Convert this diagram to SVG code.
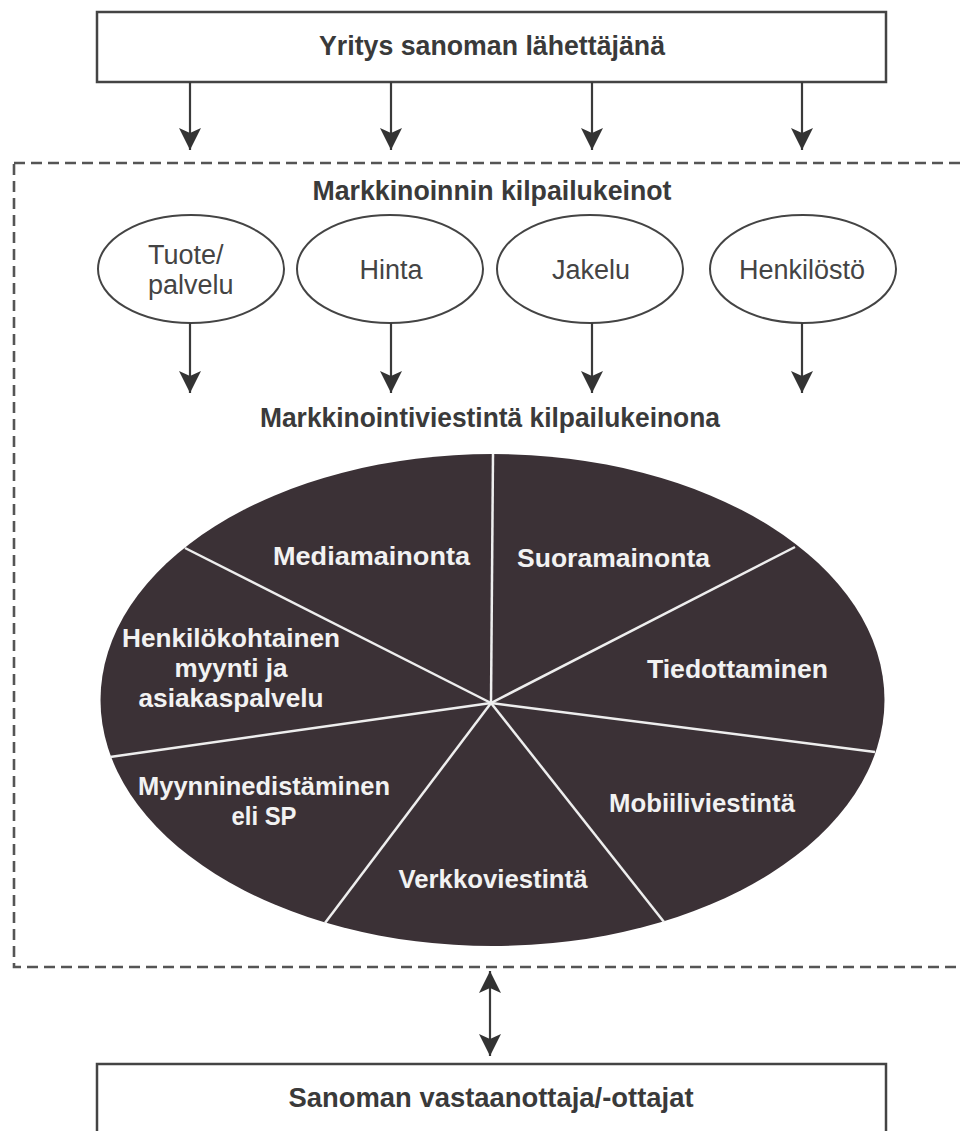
<svg xmlns="http://www.w3.org/2000/svg" width="962" height="1131" viewBox="0 0 962 1131">
<style>
.box{fill:#fff;stroke:#444;stroke-width:2.5}
.oval{fill:#fff;stroke:#444;stroke-width:2}
.head{font-family:"Liberation Sans",Arial,sans-serif;font-weight:bold;font-size:27px;fill:#3a3a3a;text-anchor:middle}
.lbl{font-family:"Liberation Sans",Arial,sans-serif;font-size:27px;fill:#444}
.pie{font-family:"Liberation Sans",Arial,sans-serif;font-weight:bold;font-size:26px;fill:#f2f2f2;text-anchor:middle}
.conn{stroke:#3a3a3a;stroke-width:2.2;fill:none}
.div{stroke:#eeeeee;stroke-width:2.5}
</style>
<defs>
<marker id="ah" viewBox="0 0 22 22" markerWidth="22" markerHeight="22" refX="22" refY="11" orient="auto-start-reverse" markerUnits="userSpaceOnUse">
<path d="M0,0 L22,11 L0,22 L5,11 z" fill="#333"/>
</marker>
</defs>
<rect width="962" height="1131" fill="#fff"/>

<g id="sender">
<rect class="box" x="97" y="12" width="789" height="70"/>
<text class="head" x="492" y="55" textLength="346" lengthAdjust="spacingAndGlyphs">Yritys sanoman lähettäjänä</text>
</g>

<g id="frame">
<rect x="14" y="163" width="970" height="804" fill="none" stroke="#555" stroke-width="2.6" stroke-dasharray="11 6"/>
<text class="head" x="492" y="200" textLength="359" lengthAdjust="spacingAndGlyphs">Markkinoinnin kilpailukeinot</text>
<text class="head" x="490" y="427" textLength="460" lengthAdjust="spacingAndGlyphs">Markkinointiviestintä kilpailukeinona</text>
</g>

<g id="tuote">
<ellipse class="oval" cx="191" cy="269" rx="93" ry="54"/>
<text class="lbl" x="148" y="264">Tuote/</text>
<text class="lbl" x="148" y="294">palvelu</text>
</g>
<g id="hinta">
<ellipse class="oval" cx="390" cy="269" rx="93" ry="54"/>
<text class="lbl" x="391" y="279" text-anchor="middle">Hinta</text>
</g>
<g id="jakelu">
<ellipse class="oval" cx="590" cy="269" rx="93" ry="54"/>
<text class="lbl" x="591" y="279" text-anchor="middle">Jakelu</text>
</g>
<g id="henkilosto">
<ellipse class="oval" cx="803" cy="269" rx="93" ry="54"/>
<text class="lbl" x="802" y="279" text-anchor="middle">Henkilöstö</text>
</g>

<g id="pie">
<ellipse cx="492.5" cy="700" rx="392" ry="246" fill="#3b3136"/>
<line class="div" x1="491" y1="703" x2="493" y2="454"/>
<line class="div" x1="491" y1="703" x2="185" y2="548"/>
<line class="div" x1="491" y1="703" x2="110" y2="757"/>
<line class="div" x1="491" y1="703" x2="325" y2="923"/>
<line class="div" x1="491" y1="703" x2="664" y2="922"/>
<line class="div" x1="491" y1="703" x2="875" y2="752"/>
<line class="div" x1="491" y1="703" x2="795" y2="547"/>
<text class="pie" x="371.5" y="565" textLength="197" lengthAdjust="spacingAndGlyphs">Mediamainonta</text>
<text class="pie" x="613.5" y="567" textLength="193" lengthAdjust="spacingAndGlyphs">Suoramainonta</text>
<text class="pie" x="737.5" y="678" textLength="181" lengthAdjust="spacingAndGlyphs">Tiedottaminen</text>
<text class="pie" x="231" y="647" textLength="218" lengthAdjust="spacingAndGlyphs">Henkilökohtainen</text>
<text class="pie" x="231" y="677" textLength="113" lengthAdjust="spacingAndGlyphs">myynti ja</text>
<text class="pie" x="231" y="707" textLength="185" lengthAdjust="spacingAndGlyphs">asiakaspalvelu</text>
<text class="pie" x="264" y="795" textLength="252" lengthAdjust="spacingAndGlyphs">Myynninedistäminen</text>
<text class="pie" x="264" y="825" textLength="65" lengthAdjust="spacingAndGlyphs">eli SP</text>
<text class="pie" x="702" y="812" textLength="186" lengthAdjust="spacingAndGlyphs">Mobiiliviestintä</text>
<text class="pie" x="493" y="888" textLength="189" lengthAdjust="spacingAndGlyphs">Verkkoviestintä</text>
</g>

<g id="receiver">
<rect class="box" x="97" y="1064" width="789" height="90"/>
<text class="head" x="491" y="1107" textLength="405" lengthAdjust="spacingAndGlyphs">Sanoman vastaanottaja/-ottajat</text>
</g>

<g id="connectors">
<line class="conn" x1="190" y1="82" x2="190" y2="150" marker-end="url(#ah)"/>
<line class="conn" x1="391" y1="82" x2="391" y2="150" marker-end="url(#ah)"/>
<line class="conn" x1="592" y1="82" x2="592" y2="150" marker-end="url(#ah)"/>
<line class="conn" x1="802" y1="82" x2="802" y2="150" marker-end="url(#ah)"/>
<line class="conn" x1="190" y1="323" x2="190" y2="393" marker-end="url(#ah)"/>
<line class="conn" x1="391" y1="323" x2="391" y2="393" marker-end="url(#ah)"/>
<line class="conn" x1="592" y1="323" x2="592" y2="393" marker-end="url(#ah)"/>
<line class="conn" x1="802" y1="323" x2="802" y2="393" marker-end="url(#ah)"/>
<line class="conn" x1="490" y1="971" x2="490" y2="1056" marker-start="url(#ah)" marker-end="url(#ah)"/>
</g>
</svg>
